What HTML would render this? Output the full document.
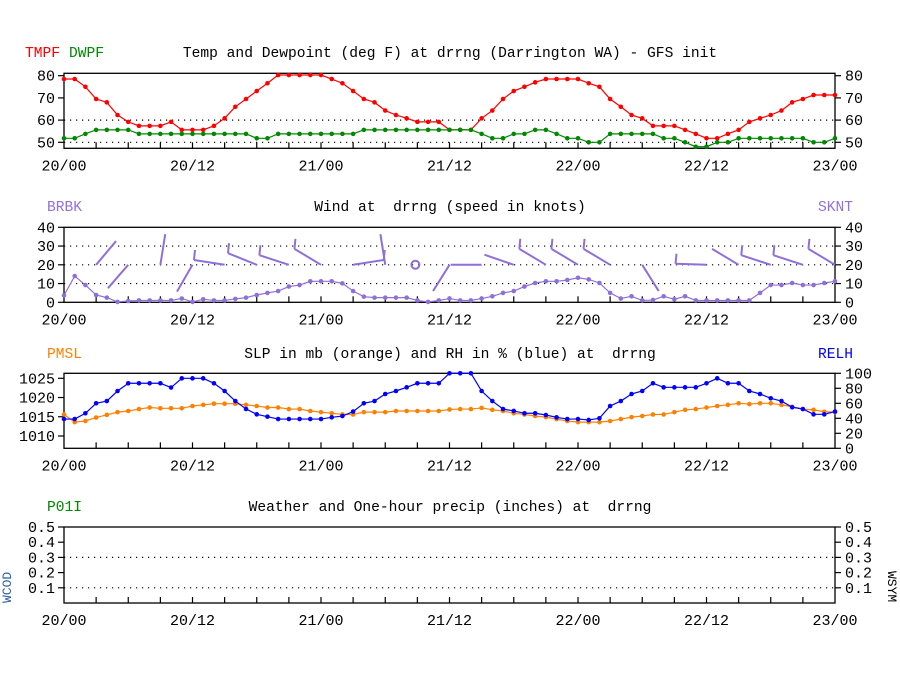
<!DOCTYPE html>
<html><head><meta charset="utf-8"><style>
html,body{margin:0;padding:0;background:#fff;}
svg{display:block;font-family:"Liberation Mono","DejaVu Sans Mono",monospace;}
text{white-space:pre;}
</style></head><body>
<svg id="chart" width="900" height="700" viewBox="0 0 900 700" xmlns="http://www.w3.org/2000/svg" xml:space="preserve">
<g id="static">
<text x="25" y="57" font-size="14.6" fill="#ff0000">TMPF</text>
<text x="69" y="57" font-size="14.6" fill="#008800">DWPF</text>
<text x="450" y="57" font-size="14.6" text-anchor="middle">Temp and Dewpoint (deg F) at drrng (Darrington WA) - GFS init</text>
<text x="47" y="211" font-size="14.6" fill="#9370db">BRBK</text>
<text x="818" y="211" font-size="14.6" fill="#9370db">SKNT</text>
<text x="450" y="211" font-size="14.6" text-anchor="middle">Wind at  drrng (speed in knots)</text>
<text x="47" y="358" font-size="14.6" fill="#ff8000">PMSL</text>
<text x="818" y="358" font-size="14.6" fill="#0000ff">RELH</text>
<text x="450" y="358" font-size="14.6" text-anchor="middle">SLP in mb (orange) and RH in % (blue) at  drrng</text>
<text x="47" y="511" font-size="14.6" fill="#008800">P01I</text>
<text x="450" y="511" font-size="14.6" text-anchor="middle">Weather and One-hour precip (inches) at  drrng</text>
<text transform="translate(11,603) rotate(-90)" font-size="13" fill="#2a5fa0">WCOD</text>
<text transform="translate(888,571) rotate(90)" font-size="13" fill="#000">WSYM</text>
</g>
<g id="plots"></g>
</svg>
<script>
// ---- data (hourly, 20/00 .. 23/00) ----
const xTickLabels = ["20/00","20/12","21/00","21/12","22/00","22/12","23/00"];
const tmpf = [78.5,78.5,75,69.5,68,62.3,59.2,57.4,57.4,57.4,59.2,55.6,55.6,55.6,57.4,60.8,66,69.5,73.1,76.6,80.3,80.3,80.3,80.3,80.3,78.5,76.6,73.1,69.5,68,64.3,62.3,60.8,59.2,59.2,59.2,55.6,55.6,55.6,60.8,64.3,69.5,73.1,75,77,78.5,78.5,78.5,78.5,76.6,75,69.5,66,62.3,60.8,57.4,57.4,57.4,55.6,53.8,51.8,51.8,53.8,55.6,59.2,60.8,62.3,64.3,68,69.5,71.3,71.3,71.3];
const dwpf = [51.8,51.8,53.8,55.6,55.6,55.6,55.6,53.8,53.8,53.8,53.8,53.8,53.8,53.8,53.8,53.8,53.8,53.8,51.8,51.8,53.8,53.8,53.8,53.8,53.8,53.8,53.8,53.8,55.6,55.6,55.6,55.6,55.6,55.6,55.6,55.6,55.6,55.6,55.6,53.8,51.8,51.8,53.8,53.8,55.6,55.6,53.8,51.8,51.8,50,50,53.8,53.8,53.8,53.8,53.8,51.8,51.8,50,48,48,50,50,51.8,51.8,51.8,51.8,51.8,51.8,51.8,50,50,51.8];
const sknt = [3.7,14,9.2,3.9,2.5,0.2,0.7,1,1,1,1,2,0.2,1.6,1,1,1.8,2.5,3.9,5,6,8.4,9.2,11.2,11.2,11.2,10.1,6,3,2.5,2.5,2.5,2.5,1,0.2,1,2,1,1,2,3.2,5,6,8.4,10.3,11.2,11.2,11.9,13.1,12.2,10.3,5,2,3.2,1,1.2,3.2,1.6,3.2,1,1,1,1,1,1,5,9.2,9.2,10.3,9.2,9.2,10.3,11.2];
// barbs every 3 hours: staff angle (deg, counterclockwise from east); null = none, "calm" = circle
const barbAngle = [null,50,229,81,240,171,158,162,149,9,99,"calm",238,180,161,149,149,149,302,null,178,149,162,162,149];
const barbTick = [0,0,0,0,0,1,1,1,1,1,0,0,0,0,0,1,1,1,0,0,1,0,1,1,1];
const pmsl = [1015.6,1013.6,1013.9,1014.8,1015.5,1016.2,1016.5,1017,1017.4,1017.2,1017.2,1017.2,1017.8,1018.1,1018.4,1018.4,1018.4,1018.1,1017.8,1017.4,1017.4,1017,1017,1016.5,1016.2,1015.9,1015.6,1015.6,1016.2,1016.2,1016.2,1016.5,1016.5,1016.5,1016.5,1016.5,1016.9,1017,1017,1017.3,1016.8,1016.5,1015.9,1015.6,1015.2,1014.9,1014.4,1013.9,1013.6,1013.6,1013.6,1013.9,1014.4,1014.9,1015.2,1015.6,1015.6,1016.2,1016.8,1017,1017.4,1017.8,1018.1,1018.5,1018.3,1018.5,1018.5,1018.1,1017.6,1017,1016.8,1016.3,1016.2];
const relh = [39,39,46.7,60,63,76.4,86.7,86.7,86.7,86.7,81,93.3,93.3,93.3,86.7,76.4,63,52.4,45.3,42.2,39,39,39,39,39,41.3,43,49,60,63,72.4,76.4,81.3,86.7,86.7,86.7,100,100,100,76.4,63,52.4,49.8,46.7,46.7,44.4,41.3,39,39,37.8,40,56.4,63,72.4,76.4,86.7,81.3,81.3,81.3,81.3,86.7,93.3,86.7,86.7,76.4,72.4,66.7,63,54.7,52.4,45.3,45.3,49];
const p01i = [];
const tempTicks = [50,60,70,80], windTicks = [0,10,20,30,40];
const pmslTicks = [1010,1015,1020,1025], relhTicks = [0,20,40,60,80,100];
const precipTicks = [0.1,0.2,0.3,0.4,0.5];

const NS = "http://www.w3.org/2000/svg";
const root = document.getElementById('plots');
const X0 = 64, X1 = 835, HOURS = 72;
const xs = h => X0 + (X1 - X0) * h / HOURS;
function lin(d0, d1, r0, r1){ return v => r0 + (v - d0) * (r1 - r0) / (d1 - d0); }
function mk(tag, attrs, parent){
  const e = document.createElementNS(NS, tag);
  for (const k in attrs) e.setAttribute(k, attrs[k]);
  (parent || root).appendChild(e);
  return e;
}
function frame(name, top, bot, dotted, y, leftTicks, rightTicks, yR, leftFmt, rightFmt){
  const g = mk('g', {});
  
  
  dotted.forEach(v => mk('line', {x1:X0, x2:X1, y1:y(v), y2:y(v), stroke:'#000', 'stroke-width':1.2, 'stroke-dasharray':'1.2 4.8'}, g));
  const box = mk('rect', {x:X0, y:top, width:X1-X0, height:bot-top, fill:'none', stroke:'#000', 'stroke-width':1.3}, g);
  
  
  for (let h = 3; h < HOURS; h += 3) mk('line', {x1:xs(h), x2:xs(h), y1:bot, y2:bot-6, stroke:'#000', 'stroke-width':1.2}, g);
  leftTicks.forEach(v => {
    mk('line', {x1:X0-6, x2:X0, y1:y(v), y2:y(v), stroke:'#000', 'stroke-width':1.2}, g);
    const t = mk('text', {x:X0-9, y:y(v)+5, 'font-size':15, 'text-anchor':'end'}, g);
    
    
    t.textContent = leftFmt(v);
  });
  rightTicks.forEach(v => {
    mk('line', {x1:X1, x2:X1+6, y1:yR(v), y2:yR(v), stroke:'#000', 'stroke-width':1.2}, g);
    const t = mk('text', {x:X1+10, y:yR(v)+5, 'font-size':15}, g);
    
    
    t.textContent = rightFmt(v);
  });
  xTickLabels.forEach((s, i) => {
    const t = mk('text', {x:xs(i*12), y:bot+22, 'font-size':15, 'text-anchor':'middle'}, g);
    
    
    t.textContent = s;
  });
}
function series(name, arr, y, color){
  const g = mk('g', {});
  
  
  mk('polyline', {points: arr.map((v,h)=>xs(h)+','+y(v)).join(' '), fill:'none', stroke:color, 'stroke-width':1.2}, g);
  arr.forEach((v,h) => {
    const c = mk('circle', {cx:xs(h), cy:y(v), r:2.3, fill:color}, g);
    
    
  });
}
// Panel 1: temperature
const yT = lin(80, 50, 75.7, 142.3);
frame('temp-panel', 73.3, 148.3, [50,60], yT, tempTicks, tempTicks, yT, v=>v, v=>v);
series('tmpf-line', tmpf, yT, '#ff0000');
series('dwpf-line', dwpf, yT, '#008800');
// Panel 2: wind
const yW = lin(0, 40, 302.3, 227.3);
frame('wind-panel', 227.3, 302.3, [10,20,30], yW, windTicks, windTicks, yW, v=>v, v=>v);
series('sknt-line', sknt, yW, '#8f6fd8');
const bg = mk('g', {});


barbAngle.forEach((a, i) => {
  const ax = xs(i*3), ay = yW(20);
  if (a === null) return;
  if (a === 'calm') {
    const c = mk('circle', {cx:ax-2, cy:ay, r:4, fill:'none', stroke:'#8f6fd8', 'stroke-width':2}, bg);
    
    
    return;
  }
  const r = a * Math.PI / 180, L = 31;
  const ex = ax + L*Math.cos(r), ey = ay - L*Math.sin(r);
  const l = mk('line', {x1:ax, y1:ay, x2:ex, y2:ey, stroke:'#8f6fd8', 'stroke-width':2}, bg);
  
  
  if (barbTick[i]) mk('line', {x1:ex, y1:ey, x2:ex+1, y2:ey-10, stroke:'#8f6fd8', 'stroke-width':2}, bg);
});
// Panel 3: pressure & RH
const yP = lin(1025, 1010, 378.3, 436);
const yR = lin(0, 100, 448.3, 373.3);
frame('slp-rh-panel', 373.3, 448.3, [], yP, pmslTicks, relhTicks, yR, v=>v, v=>v);
series('pmsl-line', pmsl, yP, '#ff8000');
series('relh-line', relh, yR, '#0000ff');
// Panel 4: precip
const yQ = lin(0, 0.5, 603, 527);
frame('precip-panel', 527, 603, [0.1,0.3], yQ, precipTicks, precipTicks, yQ, v=>v.toFixed(1), v=>v.toFixed(1));
if (p01i.length) series('p01i-line', p01i, yQ, '#008800');
</script>
</body></html>
